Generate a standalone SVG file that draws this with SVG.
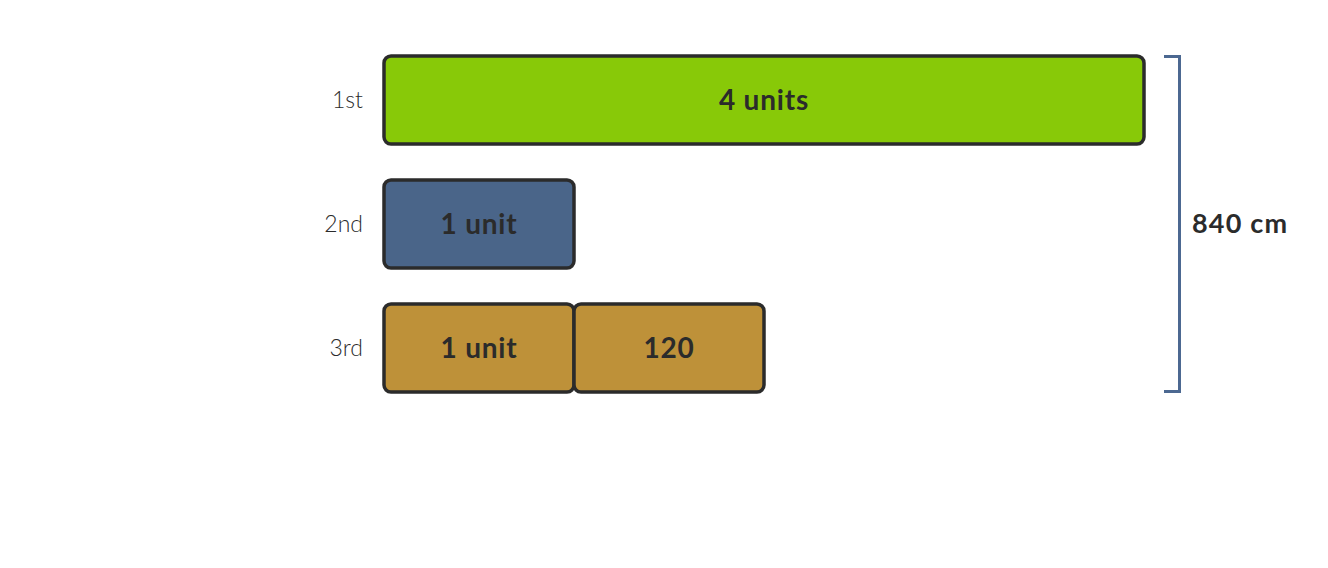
<svg xmlns="http://www.w3.org/2000/svg" width="1328" height="568" viewBox="0 0 1328 568">
<style>
.box{stroke:#2b2b2b;stroke-width:3.5}
.lbl{font-family:Lato,"Liberation Sans",sans-serif;font-size:23px;fill:#2b2b2b;text-anchor:end;font-weight:300}
.in{font-family:Lato,"Liberation Sans",sans-serif;font-size:28px;fill:#2b2b2b;text-anchor:middle;font-weight:bold;letter-spacing:0.8px}
.br{fill:none;stroke:#4c6891;stroke-width:3}
</style>
<rect width="1328" height="568" fill="#fff"/>
<g id="label-1st"><text class="lbl" x="363" y="108">1st</text></g>
<g id="label-2nd"><text class="lbl" x="363" y="232">2nd</text></g>
<g id="label-3rd"><text class="lbl" x="363" y="356">3rd</text></g>
<g id="bar-1st"><rect class="box" x="384" y="56" width="760" height="88" rx="7" fill="#88c908"/><text class="in" x="764" y="110">4 units</text></g>
<g id="bar-2nd"><rect class="box" x="384" y="180" width="190" height="88" rx="7" fill="#4a6589"/><text class="in" x="479" y="234">1 unit</text></g>
<g id="bar-3rd-unit"><rect class="box" x="384" y="304" width="190" height="88" rx="7" fill="#be9139"/><text class="in" x="479" y="358">1 unit</text></g>
<g id="bar-3rd-120"><rect class="box" x="574" y="304" width="190" height="88" rx="7" fill="#be9139"/><text class="in" x="669" y="358">120</text></g>
<g id="connectors"><path class="br" d="M1164 56.5H1179.5V391.5H1164"/></g>
<g id="total"><text x="1192" y="233" style="font-family:Lato,'Liberation Sans',sans-serif;font-size:27px;font-weight:bold;fill:#2b2b2b;letter-spacing:1.2px">840 cm</text></g>
</svg>
